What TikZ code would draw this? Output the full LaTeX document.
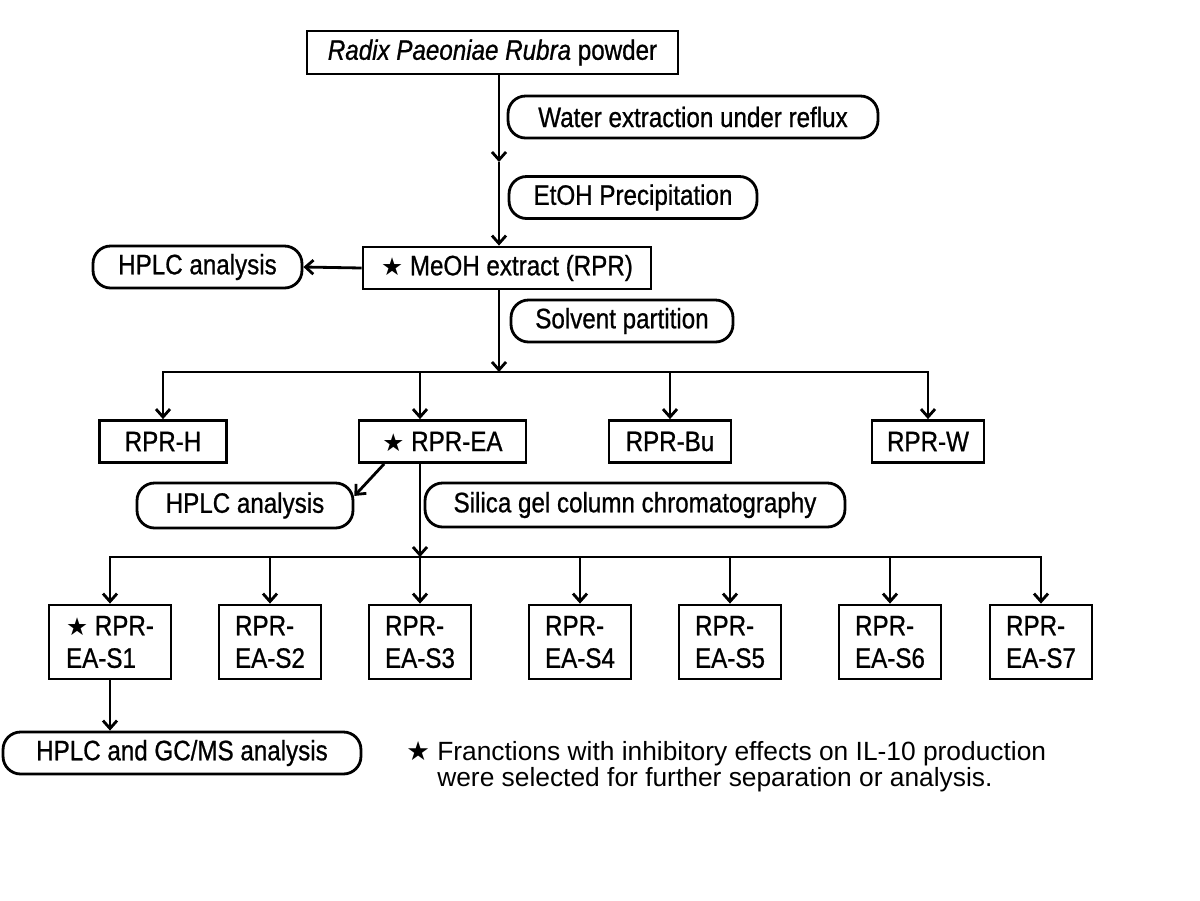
\documentclass[tikz,border=0pt]{standalone}
\usepackage{fontspec}
\setmainfont{Liberation Sans}
\newfontfamily\lblfont[FakeStretch=0.86, FakeBold=0.8]{Liberation Sans}
\newfontfamily\starfont{DejaVu Sans}
\usetikzlibrary{arrows.meta, positioning}
\newcommand{\selstar}[1][14]{{\starfont\fontsize{#1}{#1}\selectfont ★}}

\begin{document}
\begin{tikzpicture}[
  x=0.02cm, y=-0.02cm,
  box/.style={rectangle, draw, line width=1.6pt, inner sep=2pt, minimum height=0.84cm, font=\lblfont\fontsize{16}{18.5}\selectfont},
  pill/.style={box, rounded corners=10pt},
  fraction/.style={box, align=left, minimum width=2.04cm, minimum height=1.48cm},
  arrow/.style={-{Straight Barb[length=4.5pt,width=8pt]}, line width=1.6pt}
]
  \useasboundingbox (0,0) rectangle (1200,900);

  % extraction
  \node[box, minimum width=7.42cm, minimum height=0.86cm] (powder) at (492.5,52.5) {\textit{Radix Paeoniae Rubra} powder};
  \node[pill, minimum width=7.4cm] (water) at (693,117) {Water extraction under reflux};
  \node[pill, minimum width=4.96cm] (etoh) at (633,197.5) {EtOH Precipitation};
  \node[box, minimum width=5.76cm] (meoh) at (507,268) {\selstar\ MeOH extract (RPR)};
  \node[pill, minimum width=4.18cm] (hplcA) at (197.5,267) {HPLC analysis};
  \node[pill, minimum width=4.44cm] (solvent) at (622,321) {Solvent partition};

  \coordinate (mid) at (499,162);
  \coordinate (split1) at (499,372);
  \coordinate (split2) at (420,557);

  \draw[arrow] (powder.south -| mid) -- (mid);
  \draw[arrow] (mid) -- (mid |- meoh.north);
  \draw[arrow] (meoh.west) -- (hplcA.east);
  \draw[arrow] (meoh.south -| split1) -- (split1);

  % partition
  \node[box, minimum width=2.54cm] (rprH) at (163,441.5) {RPR-H};
  \node[box, minimum width=3.34cm] (rprEA) at (442.5,441.5) {\selstar\ RPR-EA};
  \node[box, minimum width=2.44cm] (rprBu) at (670,441.5) {RPR-Bu};
  \node[box, minimum width=2.24cm] (rprW) at (928,441.5) {RPR-W};
  \node[pill, minimum width=4.32cm, minimum height=0.9cm] (hplcB) at (245,505.5) {HPLC analysis};
  \node[pill, minimum width=8.4cm, minimum height=0.88cm] (silica) at (635,505) {Silica gel column chromatography};

  \draw[arrow] (split1) -| (rprH.north);
  \draw[arrow] (split1) -| (split2 |- rprEA.north);
  \draw[arrow] (split1) -| (rprBu.north);
  \draw[arrow] (split1) -| (rprW.north);
  \draw[arrow] (rprEA.-159) -- (hplcB.5);
  \draw[arrow] (rprEA.south -| split2) -- (split2);

  % silica gel fractions
  \node[fraction, minimum width=2.44cm] (s1) at (110,642) {\selstar\ RPR-\\EA-S1};
  \draw[arrow] (split2) -| (s1.north);
  \foreach \i/\x in {2/270, 3/420, 4/580, 5/730, 6/890, 7/1041} {
    \node[fraction] (s\i) at (\x,642) {RPR-\\EA-S\i};
    \draw[arrow] (split2) -| (s\i.north);
  }

  \node[pill, minimum width=7.16cm] (gcms) at (182,753) {HPLC and GC/MS analysis};
  \draw[arrow] (s1.south) -- (s1.south |- gcms.north);

  \node[anchor=base west, inner sep=0pt, align=left, font=\fontsize{15}{14.5}\selectfont] (note) at (406,786)
    {\selstar[15]\ Franctions with inhibitory effects on IL-10 production\\
     \phantom{\selstar[15]\ }were selected for further separation or analysis.};
\end{tikzpicture}
\end{document}
